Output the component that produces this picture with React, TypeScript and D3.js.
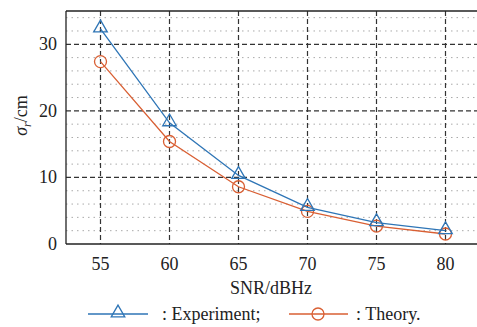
import { useEffect, useRef } from "react";
import * as d3 from "d3";

// SNR values (dBHz)
const snr = [55, 60, 65, 70, 75, 80];
// sigma_r in cm
const experiment = [32.3, 18.2, 10.3, 5.5, 3.2, 2.0];
const theory = [27.4, 15.4, 8.6, 4.9, 2.7, 1.5];
const xTicks = [55, 60, 65, 70, 75, 80];
const yTicks = [0, 10, 20, 30];
const yMinor = [2, 4, 6, 8, 12, 14, 16, 18, 22, 24, 26, 28, 32, 34];

const BLUE = "#2e75b6";
const RED = "#d95f33";
const FONT = "'Liberation Serif', 'DejaVu Serif', 'Noto Serif', Tinos, 'Times New Roman', Times, FreeSerif, serif";

export default function App() {
  const svgRef = useRef<SVGSVGElement>(null);

  useEffect(() => {
    if (!svgRef.current) return;
    const svg = d3.select(svgRef.current);
    svg.selectAll("*").remove();

    const width = 477;
    const height = 327;
    const margin = { top: 11, left: 66, bottom: 83 };
    const plotRight = 480;
    const plotBottom = height - margin.bottom;

    const x = d3.scaleLinear().domain([52.5, 82.5]).range([margin.left, plotRight]);
    const y = d3.scaleLinear().domain([0, 35]).range([plotBottom, margin.top]);

    svg.attr("width", width).attr("height", height);

    // minor dotted grid
    svg.append("g")
      .selectAll("line")
      .data(yMinor)
      .enter()
      .append("line")
      .attr("x1", margin.left)
      .attr("x2", plotRight)
      .attr("y1", d => y(d))
      .attr("y2", d => y(d))
      .attr("stroke", "#aaa")
      .attr("stroke-width", 1)
      .attr("stroke-dasharray", "1.5,4");

    // major dashed grid
    svg.append("g")
      .selectAll("line")
      .data(yTicks.filter(d => d > 0))
      .enter()
      .append("line")
      .attr("x1", margin.left)
      .attr("x2", plotRight)
      .attr("y1", d => y(d))
      .attr("y2", d => y(d))
      .attr("stroke", "#333")
      .attr("stroke-width", 1.2)
      .attr("stroke-dasharray", "5,3");

    svg.append("g")
      .selectAll("line")
      .data(xTicks)
      .enter()
      .append("line")
      .attr("x1", d => x(d))
      .attr("x2", d => x(d))
      .attr("y1", margin.top)
      .attr("y2", plotBottom)
      .attr("stroke", "#333")
      .attr("stroke-width", 1.2)
      .attr("stroke-dasharray", "5,3");

    // axes frame
    svg.append("line")
      .attr("x1", margin.left).attr("x2", margin.left)
      .attr("y1", margin.top).attr("y2", plotBottom)
      .attr("stroke", "#222").attr("stroke-width", 1.3);
    svg.append("line")
      .attr("x1", margin.left).attr("x2", plotRight)
      .attr("y1", plotBottom).attr("y2", plotBottom)
      .attr("stroke", "#222").attr("stroke-width", 1.3);
    svg.append("line")
      .attr("x1", margin.left).attr("x2", plotRight)
      .attr("y1", margin.top).attr("y2", margin.top)
      .attr("stroke", "#222").attr("stroke-width", 1.3);

    // tick labels
    svg.append("g")
      .selectAll("text")
      .data(yTicks)
      .enter()
      .append("text")
      .attr("x", margin.left - 9)
      .attr("y", d => y(d) + 6)
      .attr("text-anchor", "end")
      .attr("font-family", FONT)
      .attr("font-size", 18)
      .attr("fill", "#222")
      .text(d => d);

    svg.append("g")
      .selectAll("text")
      .data(xTicks)
      .enter()
      .append("text")
      .attr("x", d => x(d))
      .attr("y", plotBottom + 26)
      .attr("text-anchor", "middle")
      .attr("font-family", FONT)
      .attr("font-size", 18)
      .attr("fill", "#222")
      .text(d => d);

    // axis titles
    svg.append("text")
      .attr("x", 271)
      .attr("y", plotBottom + 50)
      .attr("text-anchor", "middle")
      .attr("font-family", FONT)
      .attr("font-size", 18)
      .attr("fill", "#222")
      .text("SNR/dBHz");

    const yl = svg.append("text")
      .attr("transform", `translate(27, ${y(17.5) - 12}) rotate(-90)`)
      .attr("text-anchor", "middle")
      .attr("font-family", FONT)
      .attr("font-size", 18)
      .attr("fill", "#222");
    yl.append("tspan").attr("font-style", "italic").text("σ");
    yl.append("tspan").attr("font-style", "italic").attr("font-size", 12).attr("dy", 4).text("r");
    yl.append("tspan").attr("dy", -4).text("/cm");

    // series
    const line = d3.line<number>()
      .x((_, i) => x(snr[i]))
      .y(d => y(d));

    const tri = d3.symbol().type(d3.symbolTriangle).size(80);

    const drawTri = (g: any, cx: number, cy: number) => {
      g.append("path")
        .attr("d", tri())
        .attr("transform", `translate(${cx},${cy - 1})`)
        .attr("fill", "none")
        .attr("stroke", BLUE)
        .attr("stroke-width", 1.3);
    };
    const drawCirc = (g: any, cx: number, cy: number) => {
      g.append("circle")
        .attr("cx", cx)
        .attr("cy", cy)
        .attr("r", 6)
        .attr("fill", "none")
        .attr("stroke", RED)
        .attr("stroke-width", 1.3);
    };

    const gT = svg.append("g");
    gT.append("path")
      .datum(theory)
      .attr("d", line)
      .attr("fill", "none")
      .attr("stroke", RED)
      .attr("stroke-width", 1.3);
    theory.forEach((v, i) => drawCirc(gT, x(snr[i]), y(v)));

    const gE = svg.append("g");
    gE.append("path")
      .datum(experiment)
      .attr("d", line)
      .attr("fill", "none")
      .attr("stroke", BLUE)
      .attr("stroke-width", 1.3);
    experiment.forEach((v, i) => drawTri(gE, x(snr[i]), y(v)));

    // legend
    const ly = 314;
    const lg = svg.append("g");
    lg.append("line").attr("x1", 88).attr("x2", 148).attr("y1", ly).attr("y2", ly)
      .attr("stroke", BLUE).attr("stroke-width", 1.3);
    drawTri(lg, 118, ly);
    lg.append("text").attr("x", 162).attr("y", ly + 6)
      .attr("font-family", FONT)
      .attr("font-size", 18).attr("fill", "#222")
      .text(": Experiment;");
    lg.append("line").attr("x1", 289).attr("x2", 348).attr("y1", ly).attr("y2", ly)
      .attr("stroke", RED).attr("stroke-width", 1.3);
    drawCirc(lg, 318, ly);
    lg.append("text").attr("x", 356).attr("y", ly + 6)
      .attr("font-family", FONT)
      .attr("font-size", 18).attr("fill", "#222")
      .text(": Theory.");
  }, []);

  return (
    <div style={{ position: "absolute", left: 0, top: 0, width: 477, height: 327, background: "#fff", overflow: "hidden" }}>
      <svg ref={svgRef} style={{ display: "block" }}></svg>
    </div>
  );
}
